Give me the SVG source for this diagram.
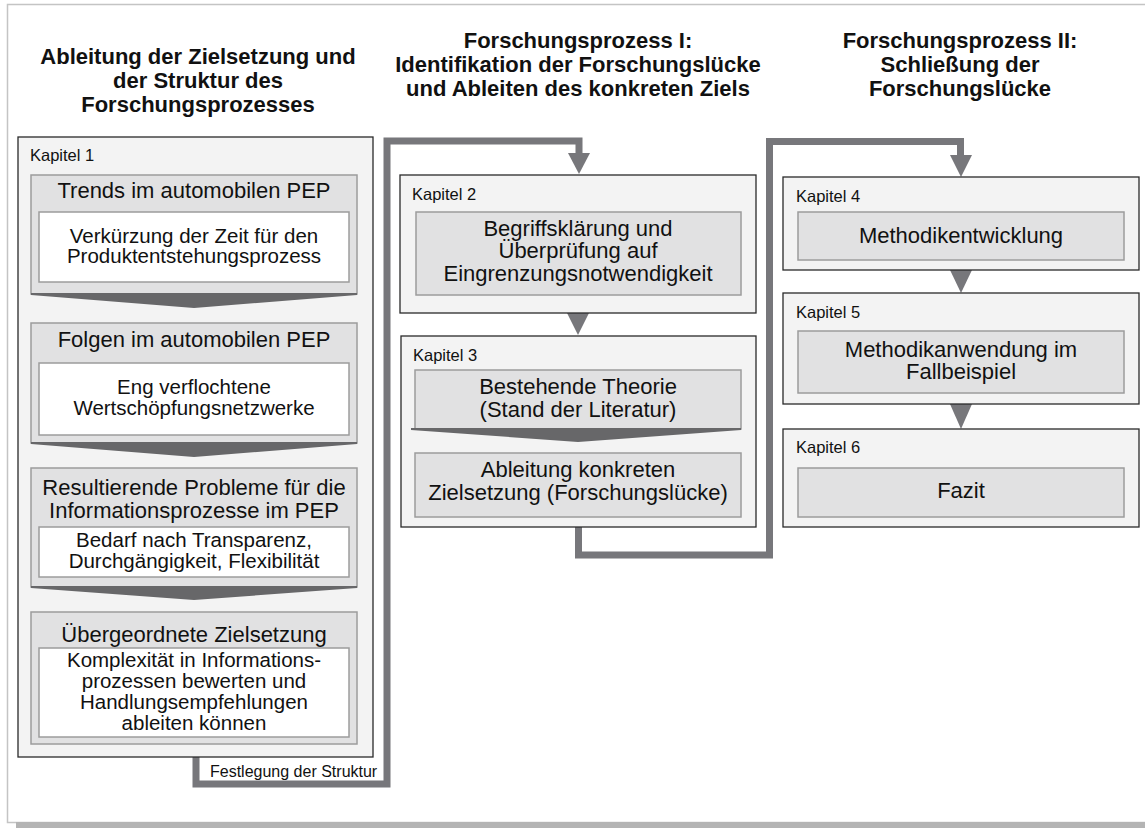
<svg xmlns="http://www.w3.org/2000/svg" width="1145" height="828" viewBox="0 0 1145 828">
<style>
text{font-family:"Liberation Sans",Arial,Helvetica,sans-serif;fill:#111}
.hd{font-size:22px;font-weight:bold;text-anchor:middle}
.kap{font-size:16.5px}
.tt{font-size:22px;text-anchor:middle}
.bd{font-size:20.5px;text-anchor:middle}
.lbl{font-size:16px}
.chap{fill:#f3f3f3;stroke:#2a2a2a;stroke-width:1.3}
.gbox{fill:#e1e1e2;stroke:#9c9c9c;stroke-width:1.5}
.wbox{fill:#ffffff;stroke:#9c9c9c;stroke-width:1.5}
.chev{fill:#676769}
.conn{fill:none;stroke:#77777b;stroke-width:7;stroke-linejoin:miter}
.ah{fill:#77777b}
</style>
<rect width="1145" height="828" fill="#ffffff"/>
<rect x="7.5" y="4.5" width="1150" height="818" fill="#ffffff" stroke="#c4c4c4" stroke-width="1.5"/>
<rect x="16" y="822" width="1129" height="6" fill="#b4b4b4"/>

<g id="headers">
<text class="hd" x="198" y="64">Ableitung der Zielsetzung und</text>
<text class="hd" x="198" y="88">der Struktur des</text>
<text class="hd" x="198" y="112">Forschungsprozesses</text>
<text class="hd" x="578" y="48">Forschungsprozess I:</text>
<text class="hd" x="578" y="72">Identifikation der Forschungslücke</text>
<text class="hd" x="578" y="96">und Ableiten des konkreten Ziels</text>
<text class="hd" x="960" y="48">Forschungsprozess II:</text>
<text class="hd" x="960" y="72">Schließung der</text>
<text class="hd" x="960" y="96">Forschungslücke</text>
</g>

<g id="connectors">
<path class="conn" d="M196,757 V784 H387 V141 H579 V154"/>
<polygon class="ah" points="568,153 590,153 579,174"/>
<path class="conn" d="M578.5,527 V555 H769.5 V141.5 H960.5 V156"/>
<polygon class="ah" points="950,155 972,155 961,177"/>
<polygon class="ah" points="567,313 589,313 578,335"/>
<polygon class="ah" points="950,270 972,270 961,293"/>
<polygon class="ah" points="950,404 972,404 961,429"/>
<text class="lbl" x="210" y="777">Festlegung der Struktur</text>
</g>

<g id="kapitel1">
<rect class="chap" x="18" y="137" width="355" height="620"/>
<text class="kap" x="30" y="161">Kapitel 1</text>
<g id="trends">
<rect class="gbox" x="31" y="175" width="326" height="119"/>
<text class="tt" x="194" y="198">Trends im automobilen PEP</text>
<rect class="wbox" x="39" y="212" width="310" height="70"/>
<text class="bd" x="194" y="243">Verkürzung der Zeit für den</text>
<text class="bd" x="194" y="263">Produktentstehungsprozess</text>
</g>
<polygon class="chev" points="31,293 357,293 357,295 194,308 31,295"/>
<g id="folgen">
<rect class="gbox" x="31" y="323" width="326" height="120"/>
<text class="tt" x="194" y="347">Folgen im automobilen PEP</text>
<rect class="wbox" x="39" y="363" width="310" height="72"/>
<text class="bd" x="194" y="394">Eng verflochtene</text>
<text class="bd" x="194" y="415">Wertschöpfungsnetzwerke</text>
</g>
<polygon class="chev" points="31,442 357,442 357,444 194,457 31,444"/>
<g id="probleme">
<rect class="gbox" x="31" y="468" width="326" height="119"/>
<text class="tt" x="194" y="495">Resultierende Probleme für die</text>
<text class="tt" x="194" y="518">Informationsprozesse im PEP</text>
<rect class="wbox" x="39" y="527" width="310" height="50"/>
<text class="bd" x="194" y="547">Bedarf nach Transparenz,</text>
<text class="bd" x="194" y="568">Durchgängigkeit, Flexibilität</text>
</g>
<polygon class="chev" points="31,586 357,586 357,588 194,600 31,588"/>
<g id="zielsetzung">
<rect class="gbox" x="31" y="612" width="326" height="132"/>
<text class="tt" x="194" y="642">Übergeordnete Zielsetzung</text>
<rect class="wbox" x="39" y="648" width="310" height="89"/>
<text class="bd" x="194" y="667">Komplexität in Informations-</text>
<text class="bd" x="194" y="688">prozessen bewerten und</text>
<text class="bd" x="194" y="709">Handlungsempfehlungen</text>
<text class="bd" x="194" y="730">ableiten können</text>
</g>
</g>

<g id="kapitel2">
<rect class="chap" x="400" y="175" width="356" height="138"/>
<text class="kap" x="412" y="200">Kapitel 2</text>
<rect class="gbox" x="416" y="212" width="325" height="83"/>
<text class="tt" x="578" y="236">Begriffsklärung und</text>
<text class="tt" x="578" y="258">Überprüfung auf</text>
<text class="tt" x="578" y="281">Eingrenzungsnotwendigkeit</text>
</g>

<g id="kapitel3">
<rect class="chap" x="401" y="336" width="355" height="191"/>
<text class="kap" x="413" y="361">Kapitel 3</text>
<g id="theorie">
<rect class="gbox" x="415" y="370" width="326" height="59"/>
<text class="tt" x="578" y="394">Bestehende Theorie</text>
<text class="tt" x="578" y="417">(Stand der Literatur)</text>
</g>
<polygon class="chev" points="411,428 741,428 741,430 578,442 411,430"/>
<g id="ableitung">
<rect class="gbox" x="415" y="453" width="326" height="64"/>
<text class="tt" x="578" y="477">Ableitung konkreten</text>
<text class="tt" x="578" y="500">Zielsetzung (Forschungslücke)</text>
</g>
</g>

<g id="kapitel4">
<rect class="chap" x="783" y="177" width="356" height="93"/>
<text class="kap" x="796" y="202">Kapitel 4</text>
<rect class="gbox" x="798" y="212" width="326" height="48"/>
<text class="tt" x="961" y="243">Methodikentwicklung</text>
</g>

<g id="kapitel5">
<rect class="chap" x="783" y="293" width="356" height="111"/>
<text class="kap" x="796" y="318">Kapitel 5</text>
<rect class="gbox" x="798" y="331" width="326" height="62"/>
<text class="tt" x="961" y="357">Methodikanwendung im</text>
<text class="tt" x="961" y="379">Fallbeispiel</text>
</g>

<g id="kapitel6">
<rect class="chap" x="783" y="429" width="356" height="98"/>
<text class="kap" x="796" y="453">Kapitel 6</text>
<rect class="gbox" x="798" y="468" width="326" height="49"/>
<text class="tt" x="961" y="498">Fazit</text>
</g>
</svg>
